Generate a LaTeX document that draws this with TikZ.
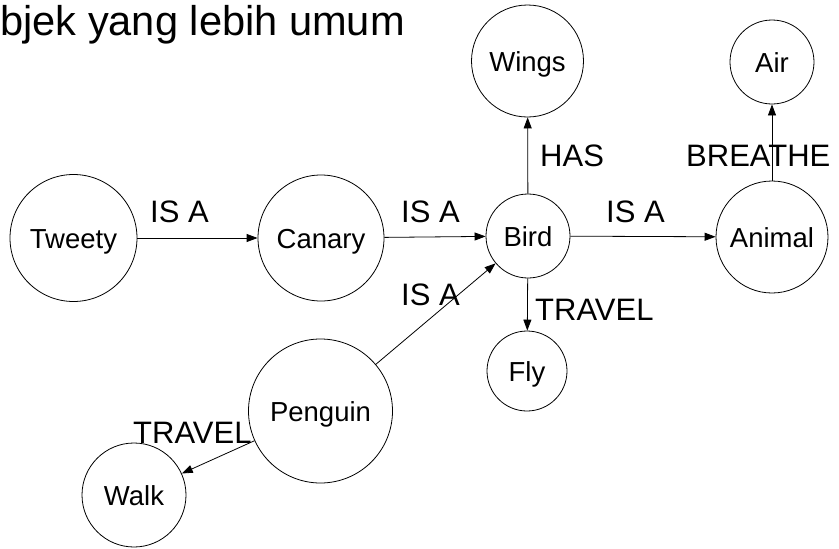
\documentclass[tikz,border=0pt]{standalone}
\usepackage{fontspec}
\setmainfont{Liberation Sans}
\usetikzlibrary{arrows.meta}
\begin{document}
\begin{tikzpicture}[x=1pt,y=-1pt,
  concept/.style={draw, circle, inner sep=0pt, line width=0.8pt,
    font=\fontsize{27.5}{27.5}\selectfont, text height=20pt, text depth=0pt},
  rel/.style={draw, line width=0.8pt, -{Triangle[length=11pt,width=8pt]}},
  lbl/.style={inner sep=0pt, anchor=base west,
    font=\fontsize{31}{31}\selectfont}]
\useasboundingbox (0,0) rectangle (839,549);

% heading
\node[inner sep=0pt, anchor=base west, font=\fontsize{41.6}{41.6}\selectfont]
  (title) at (0,35) {bjek yang lebih umum};

% concepts
\node[concept, minimum size=127pt] (tweety)  at (73.5,238) {Tweety};
\node[concept, minimum size=126pt] (canary)  at (321,238)  {Canary};
\node[concept, minimum size=84pt]  (bird)    at (528,236)  {Bird};
\node[concept, minimum size=112pt] (wings)   at (527.5,61) {Wings};
\node[concept, minimum size=112pt] (animal)  at (772,237)  {Animal};
\node[concept, minimum size=84pt]  (air)     at (772,62)   {Air};
\node[concept, minimum size=80pt]  (fly)     at (527,371)  {Fly};
\node[concept, minimum size=144pt] (penguin) at (320.5,411) {Penguin};
\node[concept, minimum size=104pt] (walk)    at (134,495)  {Walk};

% relations
\draw[rel] (tweety) -- (canary);
\draw[rel] (canary) -- (bird);
\draw[rel] (bird) -- (animal);
\draw[rel] (bird) -- (wings);
\draw[rel] (animal) -- (air);
\draw[rel] (bird) -- (fly);
\draw[rel] (penguin) -- (bird);
\draw[rel] (penguin) -- (walk);

% relation labels
\node[lbl] (l1) at (150,222) {IS A};
\node[lbl] (l2) at (401,222) {IS A};
\node[lbl] (l3) at (606,222) {IS A};
\node[lbl] (l4) at (540,166) {HAS};
\node[lbl] (l5) at (686,166) {BREATHE};
\node[lbl] (l6) at (401,305) {IS A};
\node[lbl] (l7) at (535,320) {TRAVEL};
\node[lbl] (l8) at (133,443) {TRAVEL};
\end{tikzpicture}
\end{document}
